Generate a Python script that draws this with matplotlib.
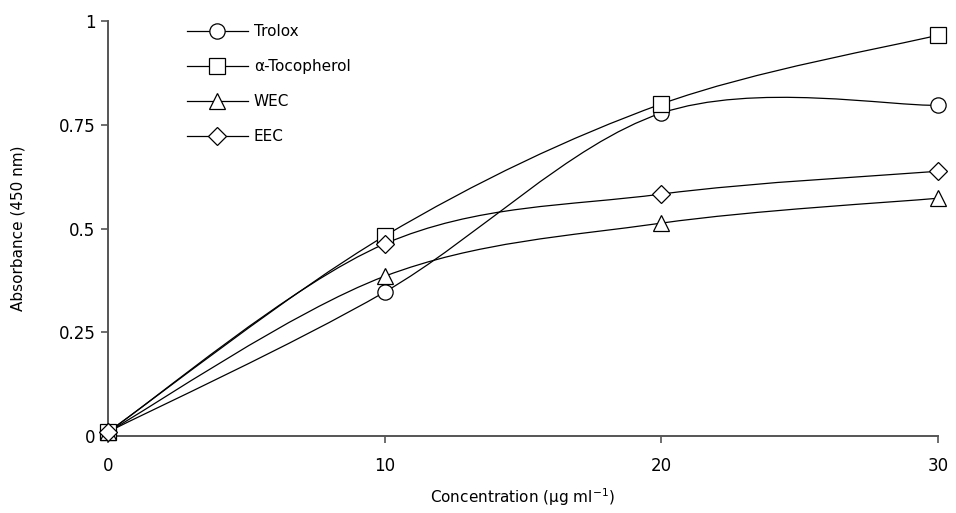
import matplotlib
matplotlib.use('Agg')
import matplotlib.pyplot as plt
import numpy as np
from matplotlib.path import Path
from matplotlib.patches import PathPatch

# data: absorbance at 450 nm vs concentration
conc = [0, 10, 20, 30]
trolox = [0.01, 0.347, 0.778, 0.797]
tocopherol = [0.01, 0.482, 0.800, 0.966]
wec = [0.01, 0.385, 0.513, 0.573]
eec = [0.01, 0.463, 0.583, 0.638]

series = [
    ('Trolox', trolox, 'o'),
    ('α-Tocopherol', tocopherol, 's'),
    ('WEC', wec, '^'),
    ('EEC', eec, 'D'),
]

plt.rcParams['font.family'] = ['DejaVu Sans']
plt.rcParams['mathtext.fontset'] = 'dejavusans'


def smooth_path(x, y, t=1.0 / 6):
    # excel style smoothed line: cubic bezier through each point
    x = np.asarray(x, float)
    y = np.asarray(y, float)
    px = np.concatenate([[x[0]], x, [x[-1]]])
    py = np.concatenate([[y[0]], y, [y[-1]]])
    verts = [(x[0], y[0])]
    codes = [Path.MOVETO]
    for i in range(len(x) - 1):
        c1 = (x[i] + t * (px[i + 2] - px[i]), y[i] + t * (py[i + 2] - py[i]))
        c2 = (x[i + 1] - t * (px[i + 3] - px[i + 1]), y[i + 1] - t * (py[i + 3] - py[i + 1]))
        verts += [c1, c2, (x[i + 1], y[i + 1])]
        codes += [Path.CURVE4] * 3
    return Path(verts, codes)


fig = plt.figure(figsize=(9.56, 5.13), dpi=100)
ax = fig.add_axes([0.113, 0.150, 0.868, 0.809])

handles = []
for name, vals, mk in series:
    ax.add_patch(PathPatch(smooth_path(conc, vals), facecolor='none',
                           edgecolor='black', lw=0.9, clip_on=False))
    ms = 9 if mk == 'D' else (11.5 if mk == '^' else 11)
    ax.plot(conc, vals, linestyle='none', marker=mk, ms=ms, mfc='white',
            mec='black', mew=0.9, clip_on=False, zorder=3)
    h, = ax.plot([], [], '-', color='black', lw=0.9, marker=mk, ms=ms,
                 mfc='white', mec='black', mew=0.9)
    handles.append(h)

ax.set_xlim(0, 30)
ax.set_ylim(0, 1)
ax.set_xticks([0, 10, 20, 30])
ax.set_yticks([0, 0.25, 0.5, 0.75, 1])
ax.set_yticklabels(['0', '0.25', '0.5', '0.75', '1'])

for s in ['top', 'right']:
    ax.spines[s].set_visible(False)
for s in ['left', 'bottom']:
    ax.spines[s].set_color('#555555')
    ax.spines[s].set_linewidth(1.4)
ax.tick_params(direction='out', length=5, width=1.2, color='#555555',
               labelsize=12, pad=4)
ax.tick_params(axis='x', pad=10)

ax.set_xlabel('Concentration (µg ml$^{-1}$)', fontsize=11, labelpad=8)
ax.set_ylabel('Absorbance (450 nm)', fontsize=11, labelpad=24)

ax.legend(handles, [s[0] for s in series], loc='upper left',
          bbox_to_anchor=(0.078, 1.025), frameon=False, fontsize=11,
          handlelength=4.0, labelspacing=1.3, handletextpad=0.4)

fig.savefig('out.png', dpi=100)
